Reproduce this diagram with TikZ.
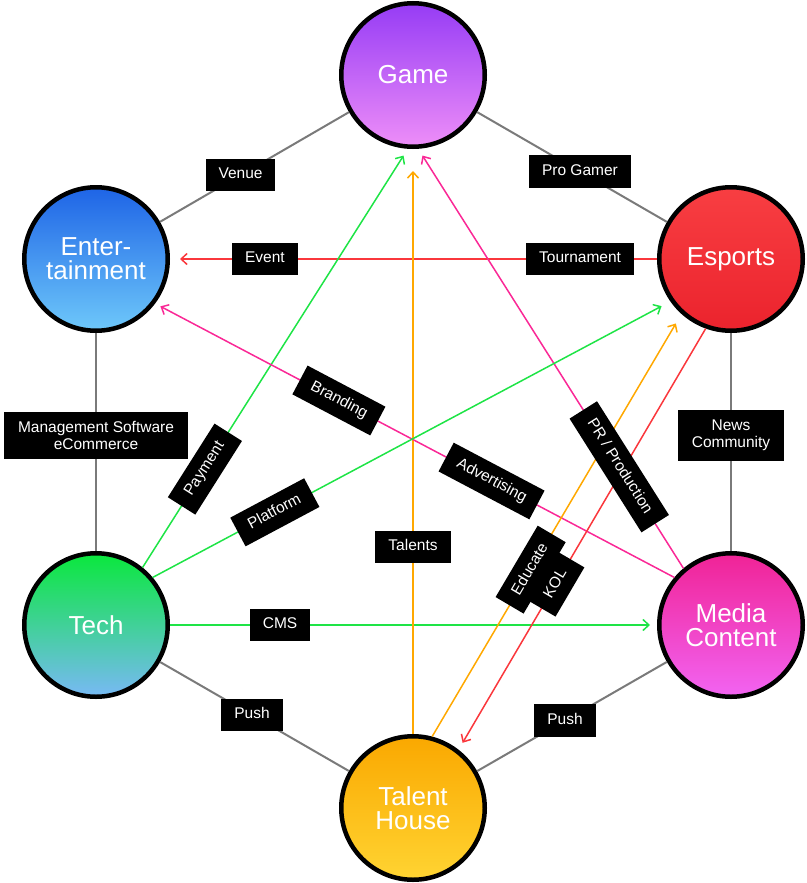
\documentclass[tikz,border=0pt]{standalone}
\usepackage{fontspec}
\setmainfont{Liberation Sans}
\usetikzlibrary{arrows.meta}
\definecolor{hexgray}{RGB}{122,122,122}
\definecolor{cRed}{RGB}{250,55,60}
\definecolor{cGreen}{RGB}{30,228,70}
\definecolor{cOrange}{RGB}{255,168,0}
\definecolor{cPink}{RGB}{250,40,150}
\definecolor{gameTop}{RGB}{150,60,245}
\definecolor{gameBot}{RGB}{238,142,248}
\definecolor{entTop}{RGB}{30,100,230}
\definecolor{entBot}{RGB}{110,200,250}
\definecolor{espTop}{RGB}{248,62,66}
\definecolor{espBot}{RGB}{235,35,45}
\definecolor{techTop}{RGB}{10,232,60}
\definecolor{techBot}{RGB}{120,185,245}
\definecolor{medTop}{RGB}{240,35,150}
\definecolor{medBot}{RGB}{242,100,242}
\definecolor{talTop}{RGB}{250,168,0}
\definecolor{talBot}{RGB}{255,212,50}
\begin{document}
\begin{tikzpicture}[x=1pt,y=-1pt,
  hub/.style={circle, draw=black, line width=4.5pt, minimum size=143.5pt, inner sep=0pt,
    text=white, align=center, font=\fontsize{26}{24}\selectfont},
  lbl/.style={fill=black, text=white, font=\fontsize{15.5}{18}\selectfont,
    inner xsep=13pt, inner ysep=9pt, text height=11pt, text depth=3.5pt},
  lbltwo/.style={fill=black, text=white, font=\fontsize{15.5}{17.5}\selectfont,
    inner xsep=14pt, inner ysep=9.5pt, align=center},
  hexline/.style={draw=hexgray, line width=2pt},
  flow/.style={line width=1.5pt, -{Straight Barb[length=6pt,width=11pt]}},
]
\useasboundingbox (0,0) rectangle (806,883);

\node[hub, top color=gameTop, bottom color=gameBot] (game) at (413,75) {Game};
\node[hub, top color=entTop, bottom color=entBot] (ent) at (96,259) {Enter-\\tainment};
\node[hub, top color=espTop, bottom color=espBot] (esports) at (731,259) {Esports};
\node[hub, top color=techTop, bottom color=techBot] (tech) at (96,625) {Tech};
\node[hub, top color=medTop, bottom color=medBot] (media) at (731,625) {Media\\Content};
\node[hub, top color=talTop, bottom color=talBot] (talent) at (413,808) {Talent\\House};

% hexagon edges
\draw[hexline] (game) -- (ent);
\draw[hexline] (game) -- (esports);
\draw[hexline] (ent) -- (tech);
\draw[hexline] (esports) -- (media);
\draw[hexline] (tech) -- (talent);
\draw[hexline] (media) -- (talent);

% flows
\draw[flow, cRed, shorten >=10pt] (esports) -- (ent);
\draw[flow, cGreen, shorten >=7pt] (tech) -- (media);
\draw[flow, cOrange, shorten >=22pt] (talent) -- (game);
\draw[flow, cGreen, shorten >=8pt] (tech.51) -- (game.266);
\draw[flow, cPink, shorten >=8pt] (media.130) -- (game.274);
\draw[flow, cPink, shorten >=6pt] (media.140) -- (ent.-37);
\draw[flow, cGreen, shorten >=10pt] (tech.40) -- (esports.215);
\draw[flow, cOrange, shorten >=11pt] (talent.75) -- (esports.228);
\draw[flow, cRed, shorten >=8pt] (esports.250) -- (talent.52);

% labels (placed on the same connectors, drawn on top)
\path (game) -- node[lbl, pos=0.574] (lVenue) {Venue} (ent);
\path (game) -- node[lbl, pos=0.542] (lPro) {Pro Gamer} (esports);
\path (ent) -- node[lbltwo, pos=0.47] (lMgmt) {Management Software\\eCommerce} (tech);
\path (esports) -- node[lbltwo, pos=0.47] (lNews) {News\\Community} (media);
\path (tech) -- node[lbl, pos=0.487] (lPushL) {Push} (talent);
\path (media) -- node[lbl, pos=0.537] (lPushR) {Push} (talent);
\path (esports) -- node[lbl, pos=0.158] (lTour) {Tournament}
  node[lbl, pos=0.805] (lEvent) {Event} (ent);
\path (tech) -- node[lbl, pos=0.226] (lCMS) {CMS} (media);
\path (talent) -- node[lbl, pos=0.32] (lTal) {Talents} (game);
\path (tech.51) -- node[lbl, sloped, pos=0.235] (lPay) {Payment} (game.266);
\path (media.130) -- node[lbl, sloped, pos=0.242] (lPR) {PR / Production} (game.274);
\path (media.140) -- node[lbl, sloped, pos=0.352] (lAdv) {Advertising}
  node[lbl, sloped, pos=0.646] (lBrand) {Branding} (ent.-37);
\path (tech.40) -- node[lbl, sloped, pos=0.236] (lPlat) {Platform} (esports.215);
\path (talent.75) -- node[lbl, sloped, pos=0.395] (lEdu) {Educate} (esports.228);
\path (esports.250) -- node[lbl, sloped, pos=0.606] (lKOL) {KOL} (talent.52);
\end{tikzpicture}
\end{document}
